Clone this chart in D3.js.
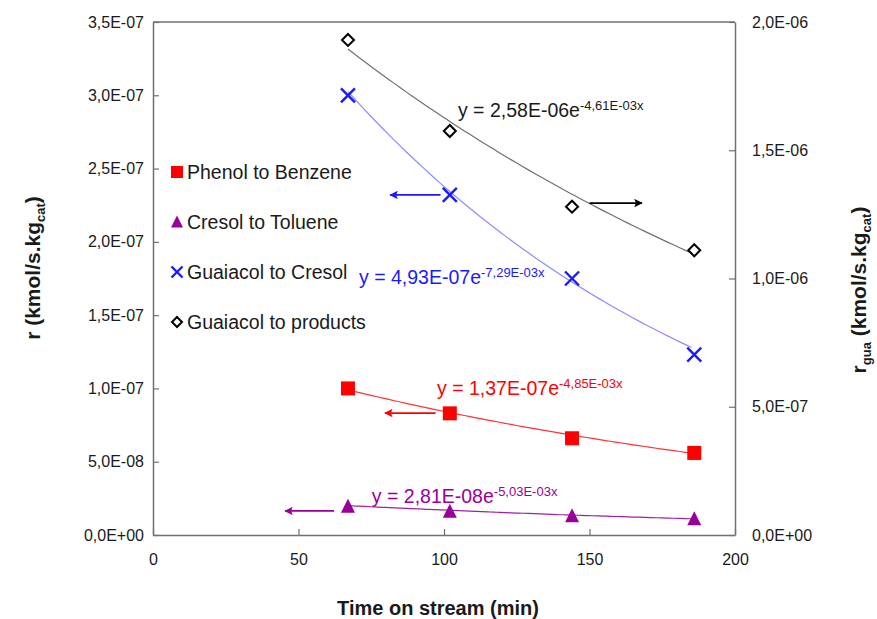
<!DOCTYPE html>
<html>
<head>
<meta charset="utf-8">
<script src="https://cdn.jsdelivr.net/npm/d3@7"></script>
<style>
  body { margin: 0; background: #fff; }
  text { font-family: "Liberation Sans", Arial, sans-serif; }
</style>
</head>
<body>
<script>
(function () {

  // Time on stream (min)
  let time = [67, 102, 144, 186];

  // Rates, left axis (kmol/s.kgcat)
  let phenolBenzene  = [1.00e-7, 0.83e-7, 0.66e-7, 0.56e-7];
  let cresolToluene  = [1.95e-8, 1.60e-8, 1.30e-8, 1.10e-8];
  let guaiacolCresol = [3.00e-7, 2.32e-7, 1.75e-7, 1.23e-7];

  // Rate, right axis
  let guaiacolProducts = [1.93e-6, 1.575e-6, 1.28e-6, 1.11e-6];

  let xTicks  = [0, 50, 100, 150, 200];
  let yTicks  = [0, 0.5e-7, 1.0e-7, 1.5e-7, 2.0e-7, 2.5e-7, 3.0e-7, 3.5e-7];
  let y2Ticks = [0, 0.5e-6, 1.0e-6, 1.5e-6, 2.0e-6];

  // Exponential trendlines as printed on the chart: y = a * e^(b x)
  let fitNames = ['products', 'cresol', 'phenol', 'toluene'];
  let fitA     = [2.58e-6, 4.93e-7, 1.37e-7, 2.81e-8];
  let fitB     = [-4.61e-3, -7.29e-3, -4.85e-3, -5.03e-3];
  let fitTextA = ['2,58E-06', '4,93E-07', '1,37E-07', '2,81E-08'];
  let fitTextB = ['-4,61E-03x', '-7,29E-03x', '-4,85E-03x', '-5,03E-03x'];

  let legendLabels = ['Phenol to Benzene', 'Cresol to Toluene', 'Guaiacol to Cresol', 'Guaiacol to products'];

  let width = 877, height = 619;
  let margin = { top: 22, right: 142, bottom: 84, left: 153 };
  let plotW = width - margin.left - margin.right;
  let plotH = height - margin.top - margin.bottom;

  let colors = {
    phenol:   '#ff0000',
    toluene:  '#990099',
    cresol:   '#1a1aff',
    products: '#000000'
  };
  let lineColors = {
    phenol:   '#ff3333',
    toluene:  '#a020a0',
    cresol:   '#8c8cff',
    products: '#707070'
  };

  let x  = d3.scaleLinear().domain([0, 200]).range([0, plotW]);
  let y  = d3.scaleLinear().domain([0, 3.5e-7]).range([plotH, 0]);
  let y2 = d3.scaleLinear().domain([0, 2.0e-6]).range([plotH, 0]);

  function fmtE(v) {
    let s = v.toExponential(1).split('e');
    let exp = parseInt(s[1], 10);
    let sign = exp < 0 ? '-' : '+';
    return s[0].replace('.', ',') + 'E' + sign + String(Math.abs(exp)).padStart(2, '0');
  }

  let svg = d3.select('body').append('svg')
      .attr('width', width)
      .attr('height', height);

  let defs = svg.append('defs');
  ['products', 'cresol', 'phenol', 'toluene'].forEach(k => {
    defs.append('marker')
      .attr('id', 'arrow-' + k)
      .attr('viewBox', '0 0 10 10')
      .attr('refX', 9).attr('refY', 5)
      .attr('markerWidth', 5.5).attr('markerHeight', 5)
      .attr('markerUnits', 'strokeWidth')
      .attr('orient', 'auto')
      .append('path')
      .attr('d', 'M0,0 L10,5 L0,10 L2,5 Z')
      .attr('fill', k == 'products' ? '#000' : colors[k]);
  });

  let g = svg.append('g').attr('transform', 'translate(' + margin.left + ',' + margin.top + ')');

  // Axes (ticks inside the frame)
  let axisColor = '#707070';
  let xAxis = g.append('g').attr('transform', 'translate(0,' + plotH + ')')
      .call(d3.axisBottom(x).tickValues(xTicks).tickSizeInner(-6).tickSizeOuter(0).tickPadding(16));
  let yAxis = g.append('g')
      .call(d3.axisLeft(y).tickValues(yTicks).tickFormat(fmtE).tickSizeInner(-6).tickSizeOuter(0).tickPadding(9));
  let y2Axis = g.append('g').attr('transform', 'translate(' + plotW + ',0)')
      .call(d3.axisRight(y2).tickValues(y2Ticks).tickFormat(fmtE).tickSizeInner(-6).tickSizeOuter(0).tickPadding(17));

  [xAxis, yAxis, y2Axis].forEach(a => {
    a.select('.domain').attr('stroke', axisColor).attr('stroke-width', 1.5);
    a.selectAll('.tick line').attr('stroke', axisColor).attr('stroke-width', 1.2);
    a.selectAll('.tick text').attr('fill', '#1a1a1a').style('font-size', '16px');
  });
  xAxis.selectAll('.tick text').attr('dy', '0.9em');

  // top border
  g.append('line')
    .attr('x1', 0).attr('x2', plotW).attr('y1', 0).attr('y2', 0)
    .attr('stroke', axisColor).attr('stroke-width', 1.5);

  // Trendlines
  let fitScale = { products: y2, cresol: y, phenol: y, toluene: y };
  let line = d3.line().curve(d3.curveBasis);
  fitNames.forEach((k, i) => {
    let xs = d3.range(time[0], time[time.length - 1] + 0.01, 2);
    let pts = xs.map(t => [x(t), fitScale[k](fitA[i] * Math.exp(fitB[i] * t))]);
    g.append('path')
      .attr('d', line(pts))
      .attr('fill', 'none')
      .attr('stroke', lineColors[k])
      .attr('stroke-width', 1.2);
  });

  // Marker shapes
  function drawSquare(sel, cx, cy, s, c) {
    sel.append('rect').attr('x', cx - s / 2).attr('y', cy - s / 2)
      .attr('width', s).attr('height', s).attr('fill', c);
  }
  function drawTriangle(sel, cx, cy, s, c) {
    sel.append('path')
      .attr('d', 'M' + cx + ',' + (cy - s * 0.55) + ' L' + (cx + s / 2) + ',' + (cy + s * 0.45) + ' L' + (cx - s / 2) + ',' + (cy + s * 0.45) + ' Z')
      .attr('fill', c);
  }
  function drawCross(sel, cx, cy, s, c) {
    let h = s / 2;
    sel.append('path')
      .attr('d', 'M' + (cx - h) + ',' + (cy - h) + ' L' + (cx + h) + ',' + (cy + h) + ' M' + (cx + h) + ',' + (cy - h) + ' L' + (cx - h) + ',' + (cy + h))
      .attr('stroke', c).attr('stroke-width', 2.4).attr('fill', 'none');
  }
  function drawDiamond(sel, cx, cy, s, c) {
    let h = s / 2;
    sel.append('path')
      .attr('d', 'M' + cx + ',' + (cy - h) + ' L' + (cx + h) + ',' + cy + ' L' + cx + ',' + (cy + h) + ' L' + (cx - h) + ',' + cy + ' Z')
      .attr('stroke', c).attr('stroke-width', 2).attr('fill', '#fff');
  }

  let marks = g.append('g');
  time.forEach((t, i) => {
    drawDiamond(marks, x(t), y2(guaiacolProducts[i]), 12, colors.products);
    drawCross(marks, x(t), y(guaiacolCresol[i]), 14, colors.cresol);
    drawSquare(marks, x(t), y(phenolBenzene[i]), 14, colors.phenol);
    drawTriangle(marks, x(t), y(cresolToluene[i]), 14, colors.toluene);
  });

  // Equations (anchored in data units: minutes, left axis rate)
  let eqX = [104.8, 70.8, 97.6, 75.2];
  let eqY = [2.85e-7, 1.71e-7, 0.955e-7, 2.2e-8];
  fitNames.forEach((k, i) => {
    let t = g.append('text')
      .attr('x', x(eqX[i]))
      .attr('y', y(eqY[i]))
      .attr('fill', k == 'products' ? '#1a1a1a' : colors[k])
      .style('font-size', '19.5px');
    t.append('tspan').text('y = ' + fitTextA[i] + 'e');
    t.append('tspan').attr('dy', -7).style('font-size', '13px').text(fitTextB[i]);
  });

  // Arrows pointing at the axis each series belongs to
  let arrowFrom = [[150, 1.294e-6], [98.8, 2.32e-7], [97.1, 0.832e-7], [62.2, 1.64e-8]];
  let arrowTo   = [[168, 1.294e-6], [81.5, 2.32e-7], [79.7, 0.832e-7], [45.4, 1.64e-8]];
  fitNames.forEach((k, i) => {
    let sc = k == 'products' ? y2 : y;
    g.append('line')
      .attr('x1', x(arrowFrom[i][0])).attr('y1', sc(arrowFrom[i][1]))
      .attr('x2', x(arrowTo[i][0])).attr('y2', sc(arrowTo[i][1]))
      .attr('stroke', k == 'products' ? '#000' : colors[k])
      .attr('stroke-width', 1.7)
      .attr('marker-end', 'url(#arrow-' + k + ')');
  });

  // Legend
  let legend = g.append('g').attr('transform', 'translate(' + 24 + ',' + 150 + ')');
  let legendDraw = [drawSquare, drawTriangle, drawCross, drawDiamond];
  let legendColors = [colors.phenol, colors.toluene, colors.cresol, colors.products];
  let legendSizes = [12, 12, 11, 10];
  legendLabels.forEach((lab, i) => {
    let ly = i * 50;
    legendDraw[i](legend, 0, ly, legendSizes[i], legendColors[i]);
    legend.append('text')
      .attr('x', 10).attr('y', ly + 7)
      .attr('fill', '#1a1a1a')
      .style('font-size', '19.5px')
      .text(lab);
  });

  // Axis titles
  svg.append('text')
    .attr('x', margin.left + plotW / 2 - 6)
    .attr('y', 615)
    .attr('text-anchor', 'middle')
    .style('font-size', '20px')
    .style('font-weight', 'bold')
    .attr('fill', '#1a1a1a')
    .text('Time on stream (min)');

  let lt = svg.append('text')
    .attr('transform', 'translate(40,' + 268 + ') rotate(-90)')
    .attr('text-anchor', 'middle')
    .style('font-size', '21px')
    .style('font-weight', 'bold')
    .attr('fill', '#1a1a1a');
  lt.append('tspan').text('r (kmol/s.kg');
  lt.append('tspan').attr('dy', 5).style('font-size', '13px').text('cat');
  lt.append('tspan').attr('dy', -5).text(')');

  let rt = svg.append('text')
    .attr('transform', 'translate(866,' + 290 + ') rotate(-90)')
    .attr('text-anchor', 'middle')
    .style('font-size', '21px')
    .style('font-weight', 'bold')
    .attr('fill', '#1a1a1a');
  rt.append('tspan').text('r');
  rt.append('tspan').attr('dy', 5).style('font-size', '13px').text('gua');
  rt.append('tspan').attr('dy', -5).text(' (kmol/s.kg');
  rt.append('tspan').attr('dy', 5).style('font-size', '13px').text('cat');
  rt.append('tspan').attr('dy', -5).text(')');

})();
</script>
</body>
</html>
